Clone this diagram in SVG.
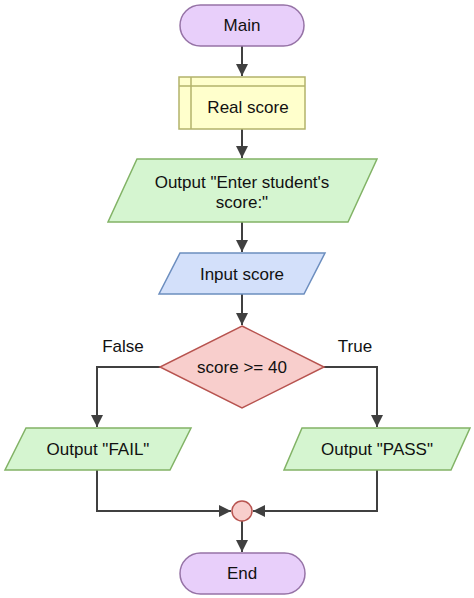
<svg xmlns="http://www.w3.org/2000/svg" width="474" height="598" viewBox="0 0 474 598">
<defs>
<marker id="arr" viewBox="0 0 10 10" refX="10" refY="5" markerWidth="6" markerHeight="6" orient="auto" markerUnits="strokeWidth">
<path d="M0,0 L10,5 L0,10 z" fill="#404040"/>
</marker>
<style>
text{font-family:"Liberation Sans",Arial,sans-serif;font-size:17px;fill:#111;text-anchor:middle;dominant-baseline:central}
.term{fill:#E8CFFA;stroke:#9673A6;stroke-width:1.5}
.store{fill:#FFFFCC;stroke:#B3B36B;stroke-width:1.5}
.out{fill:#D5F5D0;stroke:#82B366;stroke-width:1.5}
.inp{fill:#D3E0FA;stroke:#6C8EBF;stroke-width:1.5}
.dec{fill:#F8CECC;stroke:#B85450;stroke-width:1.5}
.edge{fill:none;stroke:#404040;stroke-width:2;marker-end:url(#arr)}
</style>
</defs>
<rect width="474" height="598" fill="#fff"/>
<g id="connectors">
<path class="edge" d="M242,46 V76"/>
<path class="edge" d="M242,129 V158"/>
<path class="edge" d="M242,222 V252"/>
<path class="edge" d="M242,294 V325"/>
<path class="edge" d="M160,367 H97 V427"/>
<path class="edge" d="M324,367 H377 V427"/>
<path class="edge" d="M97,470 V511 H231"/>
<path class="edge" d="M377,470 V511 H253"/>
<path class="edge" d="M242,521 V552"/>
<text x="123" y="346">False</text>
<text x="355" y="346">True</text>
</g>
<g id="main">
<rect class="term" x="180" y="5" width="124" height="41" rx="20.5"/>
<text x="242" y="25.5">Main</text>
</g>
<g id="real-score">
<rect class="store" x="179" y="77" width="126" height="52"/>
<line class="store" x1="179" y1="86" x2="305" y2="86"/>
<line class="store" x1="191" y1="77" x2="191" y2="129"/>
<text x="248" y="107">Real score</text>
</g>
<g id="output-enter">
<polygon class="out" points="137,159 377,159 348,222 108,222"/>
<text x="242" y="182">Output "Enter student's</text>
<text x="242" y="202">score:"</text>
</g>
<g id="input-score">
<polygon class="inp" points="180,253 325,253 304,294 159,294"/>
<text x="242" y="274">Input score</text>
</g>
<g id="decision">
<polygon class="dec" points="242,326 324,367 242,408 160,367"/>
<text x="242" y="367">score &gt;= 40</text>
</g>
<g id="output-fail">
<polygon class="out" points="26,428 191,428 170,470 5,470"/>
<text x="98" y="449">Output "FAIL"</text>
</g>
<g id="output-pass">
<polygon class="out" points="302,428 470,428 451,470 284,470"/>
<text x="377" y="449">Output "PASS"</text>
</g>
<g id="merge">
<circle class="dec" cx="242" cy="511" r="10"/>
</g>
<g id="end">
<rect class="term" x="180" y="553" width="125" height="41" rx="20.5"/>
<text x="242" y="573.5">End</text>
</g>
</svg>
